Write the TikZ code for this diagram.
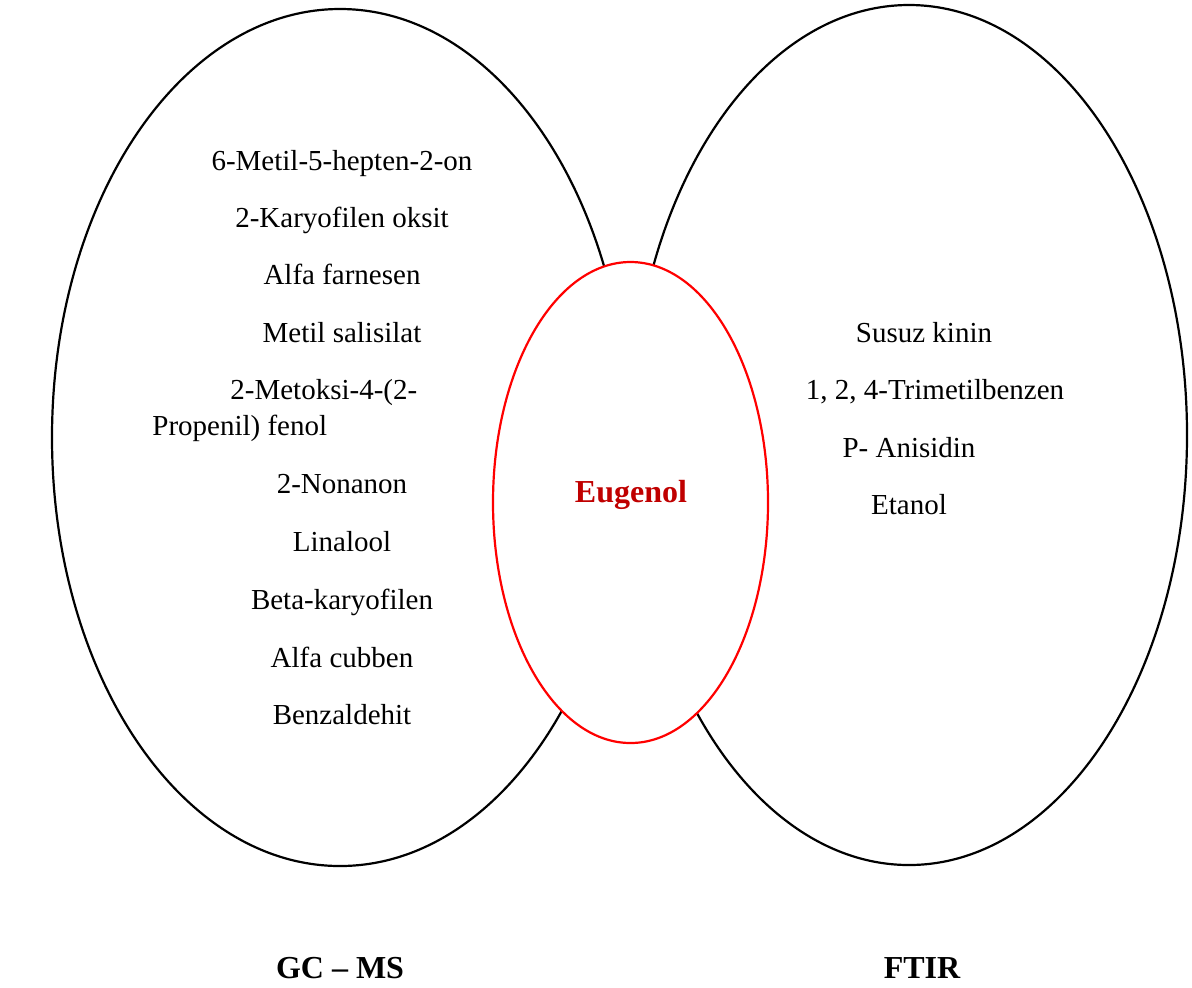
\documentclass[tikz,border=0pt]{standalone}
\usepackage{fontspec}
\setmainfont{Liberation Serif}
\usepackage{tikz}
\usetikzlibrary{shapes.geometric}
\usetikzlibrary{positioning}
\definecolor{eugenolred}{HTML}{C00000}
\tikzset{
    setbox/.style={
        ellipse, draw=black, line width=1.1pt,
        inner sep=0pt, fill=white,
    },
    itembox/.style={
        anchor=base, inner sep=0pt,
        font=\fontsize{14.5}{18}\selectfont,
    },
    titlebox/.style={
        anchor=base, inner sep=0pt,
        font=\fontsize{16}{19}\selectfont\bfseries,
    },
}

\begin{document}
\begin{tikzpicture}[x=0.5pt, y=-0.5pt]
        \useasboundingbox (0,0) rectangle (1192,987);

        % the two method sets and the common one
        \node (gcms) at(340,437.5) [
            setbox,
            minimum width=288pt, minimum height=428.5pt,
        ] {};
        \node (ftir) at(909,435) [
            setbox,
            minimum width=278pt, minimum height=430pt,
        ] {};
        \node (common) at(630.5,502.5) [
            setbox, draw=red,
            minimum width=137.5pt, minimum height=240.5pt,
        ] {};

        \node (eugenol) at(631,502) [titlebox, text=eugenolred] {Eugenol};

        % GC-MS only
        \node (metilhepten) at(342,170) [itembox] {6-Metil-5-hepten-2-on};
        \node (karyoksit) at(342,227) [itembox] {2-Karyofilen oksit};
        \node (alfafarn) at(342,284) [itembox] {Alfa farnesen};
        \node (metilsal) at(342,342) [itembox] {Metil salisilat};
        \node (metoksi) at(152,435) [
            itembox, anchor=base west, align=left,
        ] {\hspace*{39pt}2-Metoksi-4-(2-\\Propenil) fenol};
        \node (nonanon) at(342,493) [itembox] {2-Nonanon};
        \node (linalool) at(342,551) [itembox] {Linalool};
        \node (betakaryo) at(342,609) [itembox] {Beta-karyofilen};
        \node (alfacub) at(342,667) [itembox] {Alfa cubben};
        \node (benzald) at(342,724) [itembox] {Benzaldehit};

        % FTIR only
        \node (kinin) at(924,342) [itembox] {Susuz kinin};
        \node (trimetil) at(935,399) [itembox] {1, 2, 4-Trimetilbenzen};
        \node (anisidin) at(909,457) [itembox] {P- Anisidin};
        \node (etanol) at(909,514) [itembox] {Etanol};

        % method names
        \node (gcmsname) at(340,978) [titlebox] {GC -- MS};
        \node (ftirname) at(922,978) [titlebox] {FTIR};
    \end{tikzpicture}
\end{document}
